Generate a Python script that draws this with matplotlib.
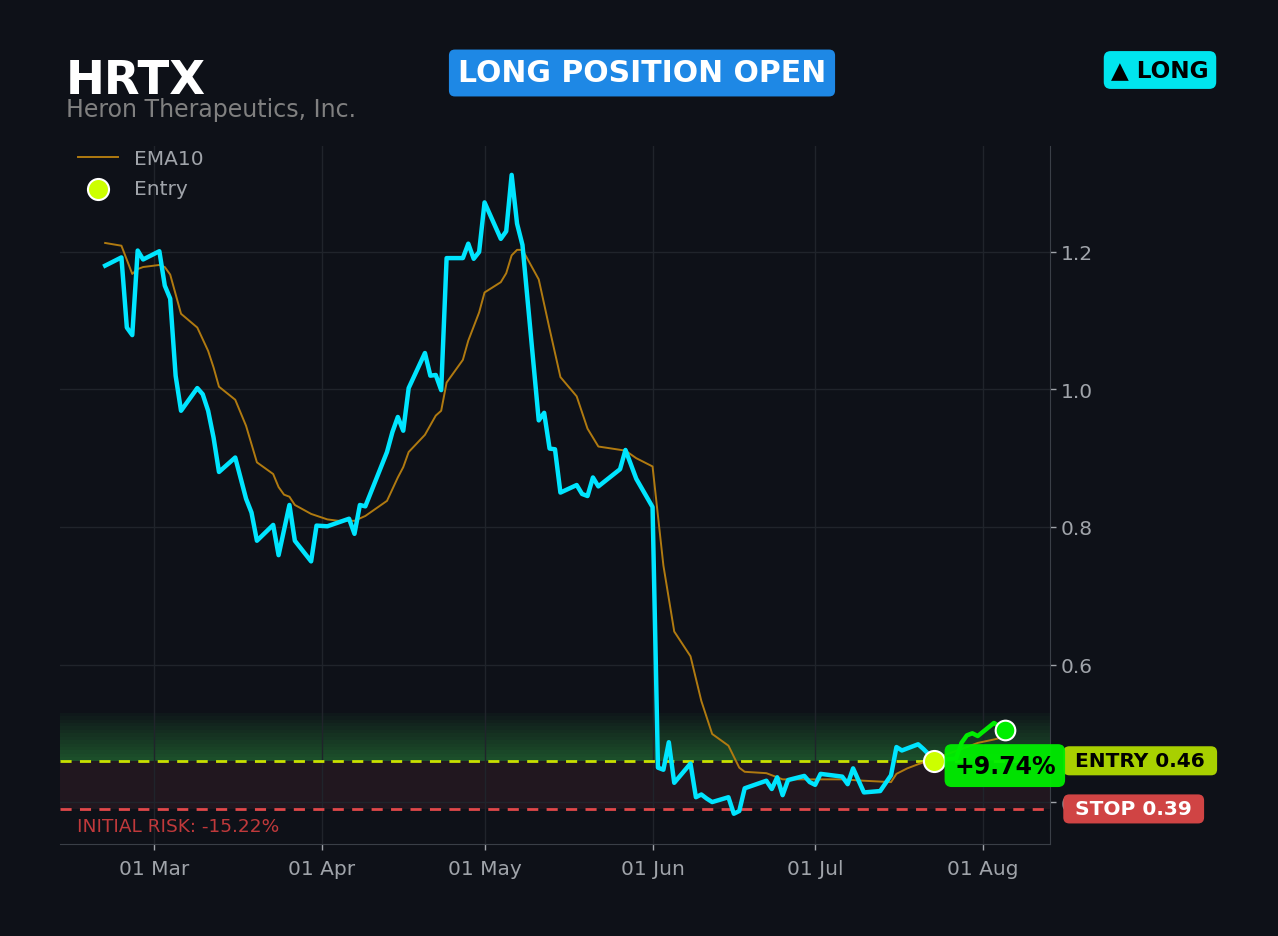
import numpy as np
import matplotlib
matplotlib.use('Agg')
import matplotlib.pyplot as plt
import matplotlib.dates as mdates
import matplotlib.transforms as mtransforms

ticker = 'HRTX'
company = 'Heron Therapeutics, Inc.'
entry_price = 0.46
stop_price = 0.39
gain_text = '+9.74%'
risk_text = 'INITIAL RISK: -15.22%'

price_dates = ['2024-02-21', '2024-02-24', '2024-02-25', '2024-02-26', '2024-02-27', '2024-02-28',
               '2024-03-02', '2024-03-03', '2024-03-04', '2024-03-05', '2024-03-06', '2024-03-09',
               '2024-03-10', '2024-03-11', '2024-03-12', '2024-03-13', '2024-03-16', '2024-03-18',
               '2024-03-19', '2024-03-20', '2024-03-23', '2024-03-24', '2024-03-26', '2024-03-27',
               '2024-03-30', '2024-03-31', '2024-04-02', '2024-04-06', '2024-04-07', '2024-04-08',
               '2024-04-09', '2024-04-13', '2024-04-14', '2024-04-15', '2024-04-16', '2024-04-17',
               '2024-04-20', '2024-04-21', '2024-04-22', '2024-04-23', '2024-04-24', '2024-04-27',
               '2024-04-28', '2024-04-29', '2024-04-30', '2024-05-01', '2024-05-04', '2024-05-05',
               '2024-05-06', '2024-05-07', '2024-05-08', '2024-05-11', '2024-05-12', '2024-05-13',
               '2024-05-14', '2024-05-15', '2024-05-18', '2024-05-19', '2024-05-20', '2024-05-21',
               '2024-05-22', '2024-05-26', '2024-05-27', '2024-05-29', '2024-06-01', '2024-06-02',
               '2024-06-03', '2024-06-04', '2024-06-05', '2024-06-08', '2024-06-09', '2024-06-10',
               '2024-06-11', '2024-06-12', '2024-06-15', '2024-06-16', '2024-06-17', '2024-06-18',
               '2024-06-22', '2024-06-23', '2024-06-24', '2024-06-25', '2024-06-26', '2024-06-29',
               '2024-06-30', '2024-07-01', '2024-07-02', '2024-07-06', '2024-07-07', '2024-07-08',
               '2024-07-10', '2024-07-13', '2024-07-15', '2024-07-16', '2024-07-17', '2024-07-20',
               '2024-07-21', '2024-07-23']
price_vals = [1.180, 1.192, 1.090, 1.079, 1.202, 1.189,
              1.201, 1.151, 1.132, 1.020, 0.969, 1.002,
              0.993, 0.969, 0.930, 0.880, 0.901, 0.841,
              0.821, 0.780, 0.803, 0.759, 0.832, 0.780,
              0.750, 0.802, 0.801, 0.812, 0.790, 0.832,
              0.830, 0.909, 0.938, 0.960, 0.940, 1.002,
              1.053, 1.020, 1.021, 0.999, 1.191, 1.191,
              1.212, 1.190, 1.200, 1.272, 1.219, 1.230,
              1.312, 1.241, 1.210, 0.955, 0.966, 0.914,
              0.913, 0.850, 0.861, 0.848, 0.845, 0.872,
              0.859, 0.884, 0.912, 0.870, 0.829, 0.450,
              0.447, 0.487, 0.428, 0.456, 0.407, 0.411,
              0.405, 0.400, 0.407, 0.383, 0.387, 0.420,
              0.431, 0.419, 0.436, 0.410, 0.432, 0.438,
              0.429, 0.425, 0.441, 0.437, 0.426, 0.449,
              0.414, 0.416, 0.439, 0.480, 0.475, 0.484,
              0.477, 0.461]

# after entry
open_dates = ['2024-07-23', '2024-07-27', '2024-07-28', '2024-07-29',
              '2024-07-30', '2024-07-31', '2024-08-03', '2024-08-05']
open_vals = [0.461, 0.463, 0.486, 0.497, 0.500, 0.496, 0.515, 0.505]

ema_dates = ['2024-02-21', '2024-02-24', '2024-02-26', '2024-02-27', '2024-02-28', '2024-03-02',
             '2024-03-03', '2024-03-04', '2024-03-06', '2024-03-09', '2024-03-11', '2024-03-12',
             '2024-03-13', '2024-03-16', '2024-03-18', '2024-03-20', '2024-03-23', '2024-03-24',
             '2024-03-25', '2024-03-26', '2024-03-27', '2024-03-30', '2024-04-02', '2024-04-04',
             '2024-04-07', '2024-04-09', '2024-04-13', '2024-04-15', '2024-04-16', '2024-04-17',
             '2024-04-20', '2024-04-22', '2024-04-23', '2024-04-24', '2024-04-27', '2024-04-28',
             '2024-04-30', '2024-05-01', '2024-05-04', '2024-05-05', '2024-05-06', '2024-05-07',
             '2024-05-08', '2024-05-11', '2024-05-13', '2024-05-15', '2024-05-18', '2024-05-20',
             '2024-05-22', '2024-05-27', '2024-05-29', '2024-06-01', '2024-06-03', '2024-06-05',
             '2024-06-08', '2024-06-10', '2024-06-12', '2024-06-15', '2024-06-17', '2024-06-18',
             '2024-06-22', '2024-06-24', '2024-06-25', '2024-06-29', '2024-07-06', '2024-07-10',
             '2024-07-15', '2024-07-16', '2024-07-18', '2024-07-20', '2024-07-23', '2024-07-29',
             '2024-07-31', '2024-08-03', '2024-08-05']
ema_vals = [1.213, 1.209, 1.168, 1.175, 1.178, 1.181,
            1.178, 1.167, 1.110, 1.090, 1.056, 1.032,
            1.004, 0.985, 0.947, 0.894, 0.877, 0.858,
            0.847, 0.844, 0.832, 0.819, 0.811, 0.809,
            0.809, 0.816, 0.838, 0.872, 0.887, 0.909,
            0.934, 0.962, 0.969, 1.010, 1.043, 1.071,
            1.112, 1.141, 1.156, 1.169, 1.195, 1.203,
            1.203, 1.160, 1.088, 1.018, 0.990, 0.943,
            0.917, 0.911, 0.900, 0.888, 0.744, 0.648,
            0.612, 0.547, 0.499, 0.482, 0.450, 0.444,
            0.442, 0.436, 0.433, 0.433, 0.433, 0.431,
            0.429, 0.441, 0.449, 0.455, 0.463, 0.480,
            0.486, 0.491, 0.495]

entry_date = '2024-07-23'

bg = '#0e1118'
price_dates = np.array(price_dates, dtype='datetime64[D]')
open_dates = np.array(open_dates, dtype='datetime64[D]')
ema_dates = np.array(ema_dates, dtype='datetime64[D]')

fig = plt.figure(figsize=(12.78, 9.37), dpi=100, facecolor=bg)
ax = fig.add_axes([60 / 1278, 92 / 937, 990 / 1278, 698 / 937], facecolor=bg)

# risk zone and target gradient
ax.axhspan(stop_price, entry_price, color='#3a1f28', alpha=0.45, lw=0, zorder=0)
n_bands = 14
band_top = entry_price + (entry_price - stop_price)
edges = np.linspace(entry_price, band_top, n_bands + 1)
for i in range(n_bands):
    ax.axhspan(edges[i], edges[i + 1], color='#2ea043', alpha=0.42 * (1 - i / n_bands) + 0.02,
               lw=0, zorder=0)

ax.grid(True, color='#20242b', lw=1, zorder=0.5)
ax.set_axisbelow(True)

ax.axhline(entry_price, color='#c8e000', lw=2, ls=(0, (4, 3)), zorder=2)
ax.axhline(stop_price, color='#e0484a', lw=2, ls=(0, (4, 3)), zorder=2)

ax.plot(ema_dates, ema_vals, color='#b07a10', lw=1.4, zorder=3, label='EMA10')
ax.plot(price_dates, price_vals, color='#00e5ff', lw=3.2, zorder=4)
ax.plot(open_dates, open_vals, color='#00ee00', lw=3.2, zorder=4)

ax.scatter([np.datetime64(entry_date)], [entry_price], s=230, color='#ccff00',
           edgecolor='white', lw=1.5, zorder=6, label='Entry')
ax.scatter([open_dates[-1]], [open_vals[-1]], s=200, color='#00ee00',
           edgecolor='white', lw=1.5, zorder=6)

ax.text(open_dates[-1], 0.453, gain_text, ha='center', va='center', fontsize=17,
        fontweight='bold', color='black', zorder=9,
        bbox=dict(boxstyle='round,pad=0.4,rounding_size=0.3', fc='#00ee00', ec='none', alpha=0.95))

trans = mtransforms.blended_transform_factory(ax.transAxes, ax.transData)
ax.text(1.0185, entry_price, f' ENTRY {entry_price:.2f} ', transform=trans, ha='left', va='center',
        fontsize=14.5, fontweight='bold', color='black', zorder=8, clip_on=False,
        bbox=dict(boxstyle='round,pad=0.25,rounding_size=0.3', fc='#a8d000', ec='none'))
ax.text(1.0185, stop_price, f' STOP {stop_price:.2f} ', transform=trans, ha='left', va='center',
        fontsize=14.5, fontweight='bold', color='white', zorder=8, clip_on=False,
        bbox=dict(boxstyle='round,pad=0.25,rounding_size=0.3', fc='#d04444', ec='none'))
ax.text(0.017, 0.365, risk_text, transform=trans, ha='left', va='center',
        fontsize=13.3, color='#c0393b')

ax.set_xlim(np.datetime64('2024-02-12T16'), np.datetime64('2024-08-13T08'))
ax.set_ylim(0.339, 1.354)
ax.yaxis.tick_right()
ax.set_yticks([0.4, 0.6, 0.8, 1.0, 1.2])
ax.xaxis.set_major_locator(mdates.MonthLocator())
ax.xaxis.set_major_formatter(mdates.DateFormatter('%d %b'))
ax.tick_params(colors='#a0a4aa', labelsize=14.5, length=4, width=1)
ax.tick_params(axis='x', pad=7)
for side in ['left', 'top']:
    ax.spines[side].set_visible(False)
for side in ['right', 'bottom']:
    ax.spines[side].set_color('#3a3f47')

leg = ax.legend(loc='upper left', frameon=False, fontsize=14.5, labelcolor='#a0a4aa',
                handlelength=2.0, handletextpad=0.8, borderpad=0.0, labelspacing=0.55,
                borderaxespad=0.0, bbox_to_anchor=(0.018, 0.996))

fig.text(66 / 1278, 1 - 81 / 937, ticker, fontsize=33.5, fontweight='bold', color='white',
         ha='left', va='center')
fig.text(66 / 1278, 1 - 110 / 937, company, fontsize=17, color='#808080', ha='left', va='center')
fig.text(642 / 1278, 1 - 74 / 937, 'LONG POSITION OPEN', fontsize=21.5, fontweight='bold',
         color='white', ha='center', va='center',
         bbox=dict(boxstyle='round,pad=0.3,rounding_size=0.2', fc='#1e88e5', ec='none'))
fig.text(1160 / 1278, 1 - 71 / 937, '\u25b2 LONG', fontsize=16.7, fontweight='bold',
         color='black', ha='center', va='center',
         bbox=dict(boxstyle='round,pad=0.32,rounding_size=0.3', fc='#00e5ee', ec='none'))

fig.savefig('out.png', dpi=100, facecolor=bg)
